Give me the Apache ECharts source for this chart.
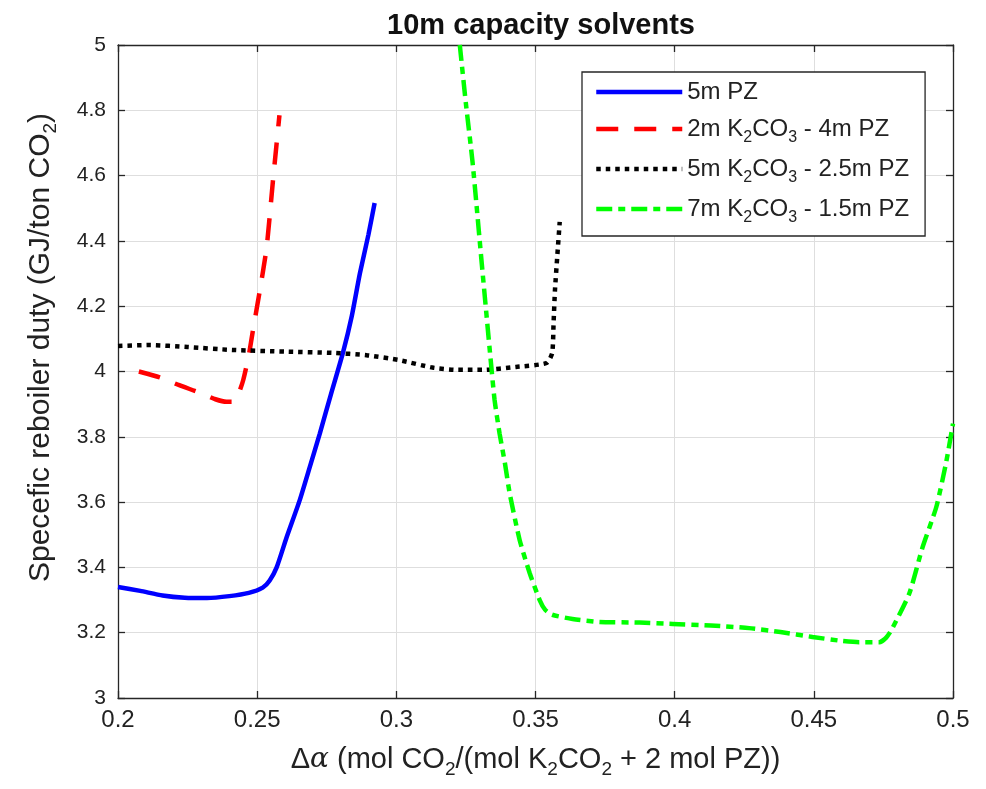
<!DOCTYPE html>
<html>
<head>
<meta charset="utf-8">
<script src="https://cdn.jsdelivr.net/npm/echarts@6/dist/echarts.min.js"></script>
<style>
  html, body { margin: 0; padding: 0; background: #fff; }
  #chart { width: 986px; height: 789px; }
</style>
</head>
<body>
<div id="chart"></div>
<script>
// Reboiler duty vs. cyclic capacity for four 10 m capacity solvents
const seriesNames = ['5m PZ', '2m K2CO3 - 4m PZ', '5m K2CO3 - 2.5m PZ', '7m K2CO3 - 1.5m PZ'];
const legendLabels = [
  '5m PZ',
  '2m K{sub|2}CO{sub|3} - 4m PZ',
  '5m K{sub|2}CO{sub|3} - 2.5m PZ',
  '7m K{sub|2}CO{sub|3} - 1.5m PZ'
];

const pz5m = [
  [0.200, 3.340], [0.208, 3.328], [0.216, 3.314], [0.224, 3.307], [0.232, 3.306],
  [0.240, 3.312], [0.247, 3.322], [0.252, 3.338], [0.2545, 3.360], [0.257, 3.400],
  [0.2605, 3.490], [0.2653, 3.606], [0.2690, 3.710], [0.2725, 3.810], [0.2765, 3.930],
  [0.2808, 4.057], [0.2840, 4.170], [0.2869, 4.300], [0.2900, 4.420], [0.2922, 4.516]
];

const k2co3_2m_pz4m = [
  [0.2075, 4.000], [0.2150, 3.982], [0.2220, 3.958], [0.2294, 3.935], [0.2350, 3.915],
  [0.2390, 3.907], [0.2413, 3.907], [0.2430, 3.925], [0.2450, 3.974], [0.2470, 4.050],
  [0.2485, 4.127], [0.2510, 4.250], [0.2534, 4.380], [0.2557, 4.587], [0.2580, 4.785]
];

const k2co3_5m_pz25m = [
  [0.200, 4.078], [0.2115, 4.081], [0.225, 4.075], [0.241, 4.066], [0.260, 4.061],
  [0.277, 4.057], [0.2893, 4.050], [0.301, 4.035], [0.313, 4.012], [0.322, 4.005],
  [0.331, 4.005], [0.343, 4.014], [0.354, 4.026], [0.356, 4.057], [0.3565, 4.150],
  [0.3570, 4.250], [0.3578, 4.350], [0.3587, 4.458]
];

const k2co3_7m_pz15m = [
  [0.3228, 5.000], [0.3250, 4.820], [0.3274, 4.640], [0.3307, 4.330], [0.3340, 4.026],
  [0.3353, 3.913], [0.3371, 3.810], [0.3390, 3.720], [0.3407, 3.628], [0.3443, 3.484],
  [0.3479, 3.383], [0.3515, 3.300], [0.3535, 3.270], [0.3560, 3.255], [0.3633, 3.242],
  [0.3730, 3.233], [0.3874, 3.231], [0.3993, 3.227], [0.4130, 3.222], [0.4268, 3.214],
  [0.4380, 3.202], [0.4495, 3.187], [0.4600, 3.175], [0.4663, 3.171], [0.4735, 3.171],
  [0.4760, 3.185], [0.4780, 3.210], [0.4843, 3.320], [0.4890, 3.460], [0.4940, 3.585],
  [0.4975, 3.720], [0.5000, 3.840]
];

const xMin = 0.2, xMax = 0.5, xStep = 0.05;
const yMin = 3, yMax = 5, yStep = 0.2;

const FONT = '"Liberation Sans", Arial, sans-serif';
const INK = '#222';

const chart = echarts.init(document.getElementById('chart'), null, { renderer: 'canvas' });

const frameAxis = {
  axisLine: { show: true, lineStyle: { color: '#262626', width: 1.3 } },
  axisTick: { show: true, inside: true, length: 7, lineStyle: { color: '#262626', width: 1.3 } }
};

chart.setOption({
  backgroundColor: '#fff',
  animation: false,
  title: {
    text: '10m capacity solvents',
    left: 536, textAlign: 'center',
    top: 6,
    textStyle: { fontFamily: FONT, fontWeight: 'bold', fontSize: 29, color: '#111' }
  },
  grid: { left: 118, right: 33, top: 45, bottom: 91 },
  legend: {
    orient: 'vertical',
    left: 582, top: 72,
    data: seriesNames,
    formatter: name => legendLabels[seriesNames.indexOf(name)],
    backgroundColor: '#fff',
    borderColor: '#262626', borderWidth: 1.3,
    padding: [6, 16, 10, 12],
    itemWidth: 86, itemHeight: 14, itemGap: 9,
    itemStyle: { opacity: 0, borderWidth: 0 },
    lineStyle: { width: 4.5 },
    textStyle: {
      fontFamily: FONT, fontSize: 24, color: INK, lineHeight: 28,
      rich: { sub: { fontFamily: FONT, fontSize: 16, color: INK, padding: [18, 0, 0, 0] } }
    }
  },
  xAxis: [
    Object.assign({
      type: 'value', min: xMin, max: xMax, interval: xStep,
      name: '{a|Δ}{it|α}{a| (mol CO}{sub|2}{a|/(mol K}{sub|2}{a|CO}{sub|2}{a| + 2 mol PZ))}',
      nameLocation: 'middle', nameGap: 42,
      nameTextStyle: {
        rich: {
          a: { fontFamily: FONT, fontSize: 29, color: INK },
          it: { fontFamily: '"DejaVu Serif", serif', fontStyle: 'italic', fontSize: 28, color: INK },
          sub: { fontFamily: FONT, fontSize: 19, color: INK, padding: [20, 0, 0, 0] }
        }
      },
      axisLabel: { fontFamily: FONT, fontSize: 24, color: INK, margin: 10 },
      splitLine: { show: true, lineStyle: { color: '#dedede', width: 1 } }
    }, frameAxis),
    Object.assign({
      type: 'value', min: xMin, max: xMax, interval: xStep, position: 'top',
      axisLabel: { show: false }, splitLine: { show: false }
    }, frameAxis)
  ],
  yAxis: [
    Object.assign({
      type: 'value', min: yMin, max: yMax, interval: yStep,
      name: '{a|Specefic reboiler duty (GJ/ton CO}{sub|2}{a|)}',
      nameLocation: 'middle', nameGap: 58, nameRotate: 90,
      nameTextStyle: {
        padding: [0, 0, 0, 48],
        rich: {
          a: { fontFamily: FONT, fontSize: 30, color: INK },
          sub: { fontFamily: FONT, fontSize: 19, color: INK, padding: [20, 0, 0, 0] }
        }
      },
      axisLabel: { fontFamily: FONT, fontSize: 21, color: INK, margin: 12 },
      splitLine: { show: true, lineStyle: { color: '#dedede', width: 1 } }
    }, frameAxis),
    Object.assign({
      type: 'value', min: yMin, max: yMax, interval: yStep, position: 'right',
      axisLabel: { show: false }, splitLine: { show: false }
    }, frameAxis)
  ],
  series: [
    {
      name: seriesNames[0], type: 'line', data: pz5m, symbol: 'none', smooth: 0.2,
      lineStyle: { color: '#0000ff', width: 4.5, type: 'solid' }, itemStyle: { color: '#0000ff' }
    },
    {
      name: seriesNames[1], type: 'line', data: k2co3_2m_pz4m, symbol: 'none', smooth: 0.2,
      lineStyle: { color: '#ff0000', width: 4.5, type: [22, 16] }, itemStyle: { color: '#ff0000' }
    },
    {
      name: seriesNames[2], type: 'line', data: k2co3_5m_pz25m, symbol: 'none', smooth: 0.2,
      lineStyle: { color: '#000000', width: 4.5, type: [4.5, 5] }, itemStyle: { color: '#000000' }
    },
    {
      name: seriesNames[3], type: 'line', data: k2co3_7m_pz15m, symbol: 'none', smooth: 0.2,
      lineStyle: { color: '#00ff00', width: 4.5, type: [16, 6, 7, 6] }, itemStyle: { color: '#00ff00' }
    }
  ]
});
</script>
</body>
</html>
